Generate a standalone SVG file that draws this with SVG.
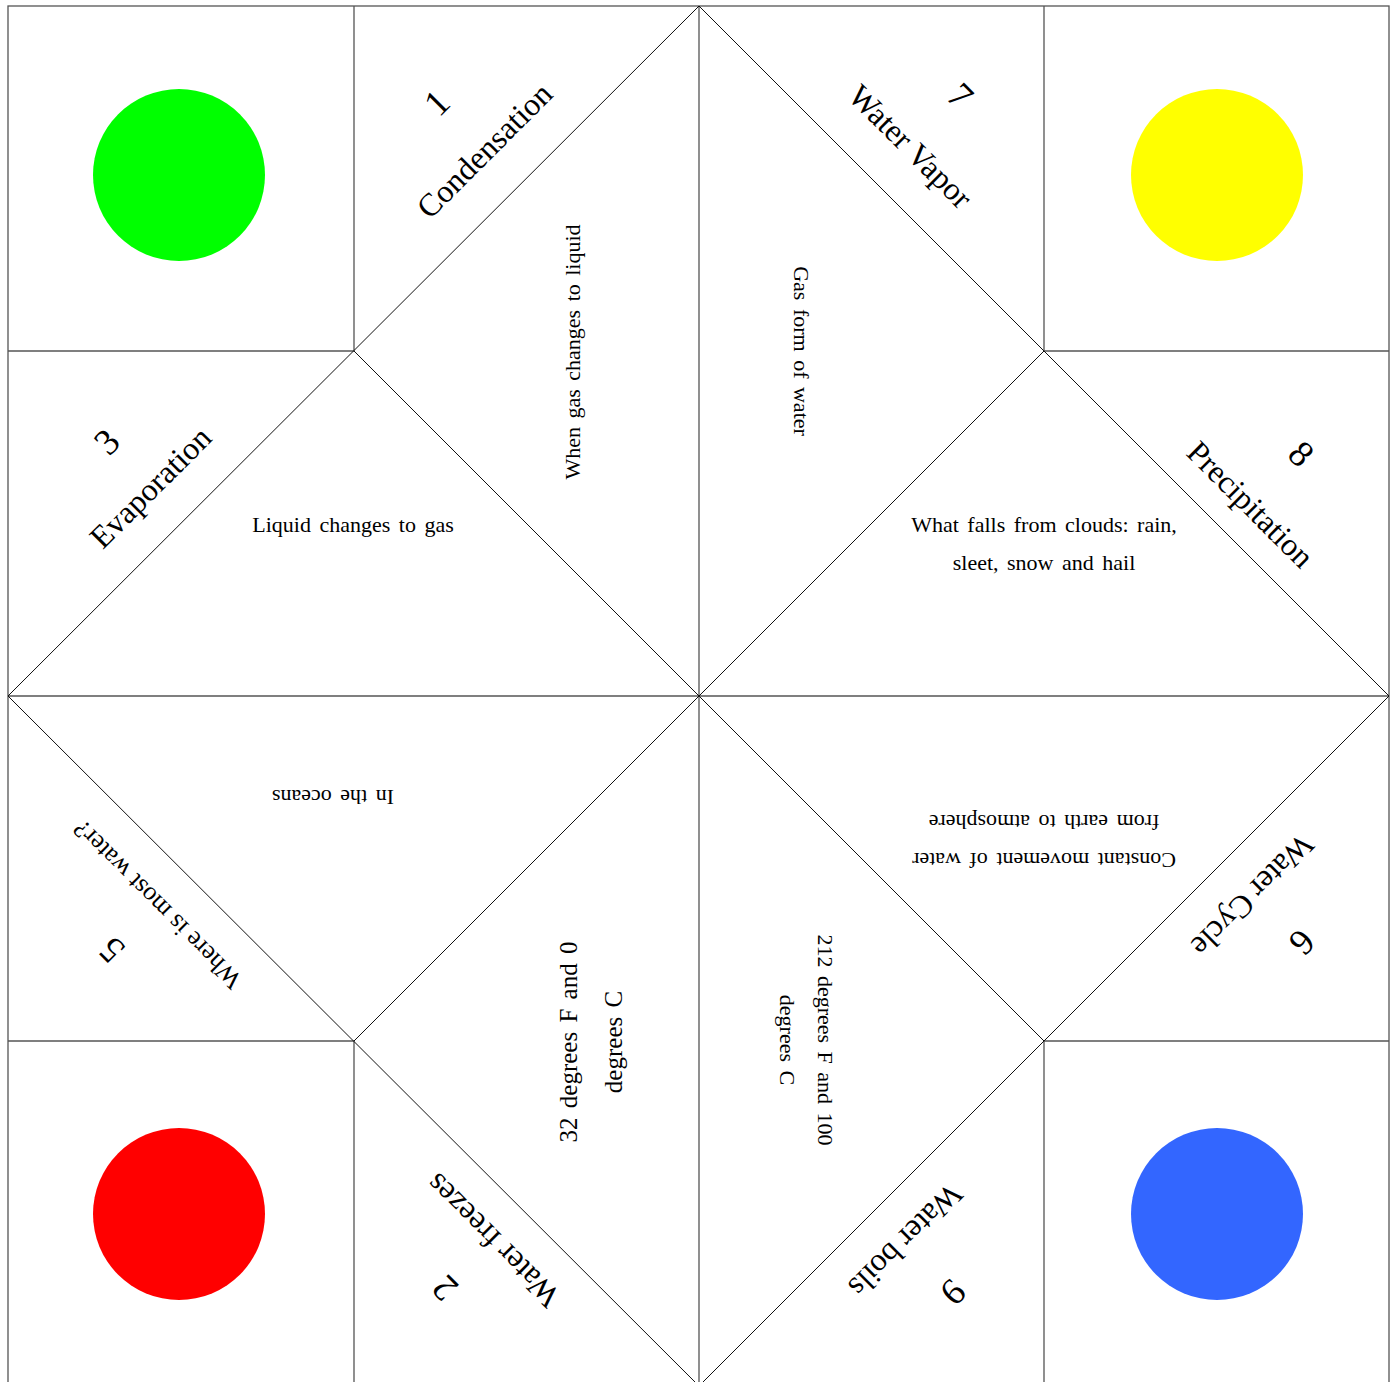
<svg xmlns="http://www.w3.org/2000/svg" width="1391" height="1382" viewBox="0 0 1391 1382">
<style>
.grid{stroke:#555;stroke-width:1.3;fill:none}
.diag{stroke:#111;stroke-width:1;fill:none}
text{font-family:"Liberation Serif","DejaVu Serif",serif;fill:#000}
.lbl{font-size:32px;text-anchor:middle}
.num{font-size:37px;text-anchor:middle}
.body{font-size:22px;text-anchor:middle;word-spacing:3px}
.big{font-size:25px}
.q{font-size:26px;text-anchor:middle}
</style>
<rect x="0" y="0" width="1391" height="1382" fill="#fff"/>
<g id="circles">
<circle cx="179" cy="175" r="86" fill="#00ff00"/>
<circle cx="1217" cy="175" r="86" fill="#ffff00"/>
<circle cx="179" cy="1214" r="86" fill="#ff0000"/>
<circle cx="1217" cy="1214" r="86" fill="#3366ff"/>
</g>
<g id="lines">
<rect class="grid" x="8" y="6" width="1381" height="1380"/>
<path class="grid" d="M354 6V351M1044 6V351M354 1041V1386M1044 1041V1386M699 6V1386M8 351H354M1044 351H1389M8 1041H354M1044 1041H1389M8 696H1389"/>
<path class="diag" d="M699 6L1389 696L699 1386L8 696Z M354 351L1044 1041 M1044 351L354 1041"/>
</g>
<g id="p1">
<text class="num" transform="translate(437,103) rotate(-45)" y="12">1</text>
<text class="lbl" transform="translate(485,151) rotate(-45)" y="10">Condensation</text>
<text class="body" transform="translate(580,352) rotate(-90)">When gas changes to liquid</text>
</g>
<g id="p7">
<text class="num" transform="translate(960,96) rotate(45)" y="12">7</text>
<text class="lbl" transform="translate(910,147) rotate(45)" y="10">Water Vapor</text>
<text class="body" transform="translate(794,351) rotate(90)">Gas form of water</text>
</g>
<g id="p3">
<text class="num" transform="translate(107,442) rotate(-45)" y="12">3</text>
<text class="lbl" transform="translate(151,488) rotate(-45)" y="10">Evaporation</text>
<text class="body" x="353" y="532">Liquid changes to gas</text>
</g>
<g id="p8">
<text class="num" transform="translate(1301,454) rotate(45)" y="12">8</text>
<text class="lbl" transform="translate(1250,505) rotate(45)" y="10">Precipitation</text>
<text class="body" x="1044" y="532">What falls from clouds: rain,</text>
<text class="body" x="1044" y="570">sleet, snow and hail</text>
</g>
<g id="p5">
<text class="num" transform="translate(112,950) rotate(-135)" y="12">5</text>
<text class="q" transform="translate(157,905) rotate(-135)" y="9">Where is most water?</text>
<text class="body" transform="translate(333,790) rotate(180)">In the oceans</text>
</g>
<g id="p6">
<text class="num" transform="translate(1302,942) rotate(135)" y="12">6</text>
<text class="lbl" transform="translate(1252,895) rotate(135)" y="10">Water Cycle</text>
<text class="body" transform="translate(1044,853) rotate(180)">Constant movement of water</text>
<text class="body" transform="translate(1044,815) rotate(180)">from earth to atmosphere</text>
</g>
<g id="p2">
<text class="num" transform="translate(445,1288) rotate(-135)" y="12">2</text>
<text class="lbl" transform="translate(493,1240) rotate(-135)" y="10">Water freezes</text>
<text class="body big" transform="translate(577,1042) rotate(-90)">32 degrees F and 0</text>
<text class="body big" transform="translate(622,1042) rotate(-90)">degrees C</text>
</g>
<g id="p9">
<text class="num" transform="translate(953,1292) rotate(135)" y="12">9</text>
<text class="lbl" transform="translate(905,1240) rotate(135)" y="10">Water boils</text>
<text class="body" transform="translate(818,1040) rotate(90)">212 degrees F and 100</text>
<text class="body" transform="translate(780,1040) rotate(90)">degrees C</text>
</g>
</svg>
